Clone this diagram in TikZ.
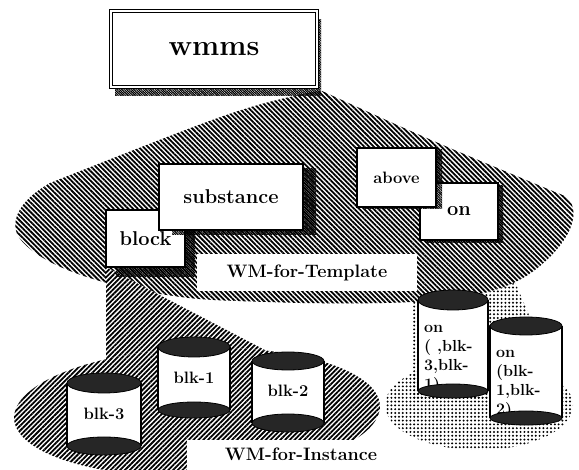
\documentclass[tikz,border=0pt]{standalone}
\usetikzlibrary{%
  positioning
 ,calc
 ,shadows
 ,patterns.meta
}
\tikzstyle{card}=[draw=black,fill=white,line width=1.1pt,inner sep=0pt]
\tikzstyle{tmpl}=[preaction={fill=white},pattern={Lines[angle=-45,distance=3.4pt,line width=1.8pt]}]
\tikzstyle{inst}=[preaction={fill=white},pattern={Lines[angle=45,distance=3.4pt,line width=1.8pt]}]
\tikzstyle{dotty}=[pattern={Dots[distance=3.8pt,radius=1.1pt]}]
\tikzstyle{lid}=[fill=black!85,draw=black,line width=0.8pt]
\tikzset{cast/.style 2 args={drop shadow={shadow xshift=#1pt,shadow yshift=-#2pt,opacity=1,
  pattern={Lines[angle=-45,distance=1.7pt,line width=1.2pt]}}}}
% drum body: x, top, bottom, half width
\newcommand{\drumbody}[4]{%
  \fill[white] (#1-#4,#2) rectangle (#1+#4,#3);
  \draw[line width=1.1pt] (#1-#4,#2) -- (#1-#4,#3) (#1+#4,#2) -- (#1+#4,#3);}
% drum lids: x, top, bottom, half width, top ry, bottom ry
\newcommand{\drumlids}[6]{%
  \path[lid] (#1,#2) ellipse [x radius=#4, y radius=#5];
  \path[lid] (#1,#3) ellipse [x radius=#4, y radius=#6];}

\begin{document}
\begin{tikzpicture}[x=1pt,y=-1pt,%
  every node/.style={inner sep=0pt}]
\tikzstyle{big} = [font=\bfseries\fontsize{20}{23}\selectfont]
\tikzstyle{mid} = [font=\bfseries\fontsize{16.5}{19}\selectfont]
\tikzstyle{wmlab} = [font=\bfseries\fontsize{18}{20}\selectfont]
\tikzstyle{tiny} = [font=\bfseries\fontsize{16}{19}\selectfont,anchor=north west,align=left]
\useasboundingbox (0,0) rectangle (579,470);
\clip (0,0) rectangle (579,470);
% on instances
\path[dotty] (413,242) -- (413,400) -- (565,400) -- (498,242) -- cycle;
\path[dotty] (479,405) ellipse [x radius=94, y radius=45];
% template memory
\path[tmpl] (312,92) .. controls (240,108) .. (50,183)
  .. controls (20,200) and (10,220) .. (18,236)
  .. controls (35,262) and (90,283) .. (160,294)
  .. controls (200,300) .. (300,303)
  .. controls (440,305) and (500,300) .. (540,266)
  .. controls (565,245) and (578,222) .. (572,205)
  .. controls (568,197) .. (555,192)
  .. controls (430,140) .. (322,91) -- cycle;
% instance memory
\path[inst] (106,267) -- (106,420) -- (370,405) -- cycle;
\path[inst,rotate around={2:(197,412)}] (197,412) ellipse [x radius=183, y radius=64];
% boxes
\node[card,double,double distance=1.6pt,line width=1.2pt,cast={4}{9},
  minimum width=206pt,minimum height=76pt,font=\bfseries\fontsize{29}{32}\selectfont]
  (wm) at (214,49) {wmms};
\node[card,big,cast={10}{10},minimum width=79pt,minimum height=57pt] (block) at (145.5,238.5) {block};
\node[card,big,cast={13}{5},minimum width=144pt,minimum height=66pt] (subst) at (231,197) {substance};
\node[card,big,cast={5}{3},minimum width=78pt,minimum height=57pt] (on) at (459,211.5) {on};
\node[card,mid,cast={6}{2},minimum width=79pt,minimum height=59pt] (above) at (396.5,177.5) {above};
\node[fill=white,wmlab,minimum width=220pt,minimum height=37pt] (tlab) at (307,273) {WM-for-Template};
\fill[white] (187,440) rectangle (400,472);
\node[wmlab] (ilab) at (301,454) {WM-for-Instance};
% drums
\drumbody{104}{383}{446}{37}
\drumbody{194}{347}{410}{36}
\drumbody{288}{361}{423}{36}
\drumbody{453}{300}{391}{35}
\drumbody{526}{326}{418}{36}
\node[mid] (blk3) at (104,414) {blk-3};
\node[mid] (blk1) at (194,378) {blk-1};
\node[mid] (blk2) at (288,391) {blk-2};
\node[tiny] (onA) at (424,325) {on\\( ,blk-\\3,blk-\\1)};
\node[tiny] (onB) at (496,350) {on\\(blk-\\1,blk-\\2)};
\drumlids{104}{383}{446}{37}{10}{9}
\drumlids{194}{347}{410}{36}{10}{8}
\drumlids{288}{361}{423}{36}{9}{9}
\drumlids{453}{300}{391}{35}{10}{7}
\drumlids{526}{326}{418}{36}{9}{7}
\end{tikzpicture}
\end{document}
